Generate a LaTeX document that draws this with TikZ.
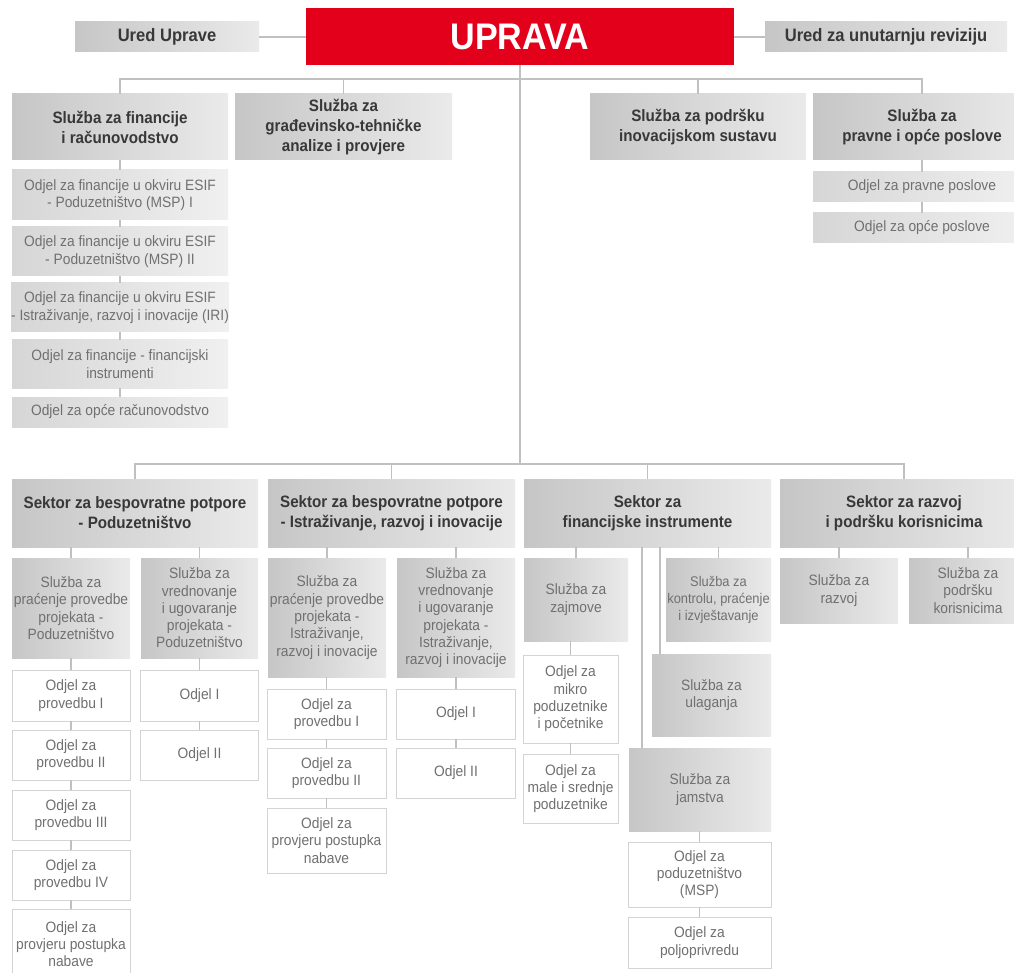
\documentclass[tikz,border=0pt]{standalone}
\usepackage{fontspec}
\setmainfont{Liberation Sans}[FakeStretch=0.92]
\usepackage{tikz}
\definecolor{upravaRed}{RGB}{226,0,26}
\definecolor{lineGray}{RGB}{192,192,192}
\definecolor{textDark}{RGB}{56,56,56}
\definecolor{textGray}{RGB}{112,112,112}
\definecolor{boxDark}{RGB}{198,198,198}
\definecolor{boxLight}{RGB}{234,234,234}
\definecolor{paleDark}{RGB}{214,214,214}
\definecolor{paleLight}{RGB}{240,240,240}
\definecolor{odjelBorder}{RGB}{212,212,212}
\newcommand{\headfont}{\fontsize{16.5}{20}\selectfont\bfseries}
\newcommand{\uredfont}{\fontsize{18}{21}\selectfont\bfseries}
\newcommand{\bodyfont}{\fontsize{15}{17.3}\selectfont}

\begin{document}
\begin{tikzpicture}[x=1pt, y=-1pt]%
  \tikzset{
    head/.style={left color=boxDark, right color=boxLight, text=textDark, font=\headfont},
    sub/.style={left color=boxDark, right color=boxLight, text=textGray, font=\bodyfont},
    pale/.style={left color=paleDark, right color=paleLight, text=textGray, font=\bodyfont},
    odjel/.style={fill=white, draw=odjelBorder, line width=0.8pt, text=textGray, font=\bodyfont},
    link/.style={draw=lineGray, line width=1.4pt},
    wh/.style 2 args={minimum width=#1, minimum height=#2}
  }
  \tikzstyle{every node}=[rectangle, inner sep=0pt, outer sep=0pt, align=center]

  \useasboundingbox (0,0) rectangle (1014,973);
  \clip (0,0) rectangle (1014,973);
  \fill[white] (0,0) rectangle (1014,973);

  % top level
  \node[fill=upravaRed, text=white, font=\fontsize{37}{40}\selectfont\bfseries, wh={428}{57}] at (520,36.5) (UPR) {UPRAVA};
  \node[head, font=\uredfont, wh={184}{30}] at (167,37) (UU) {Ured Uprave};
  \node[head, font=\uredfont, wh={242}{30}] at (886,37) (UR) {Ured za unutarnju reviziju};

  \node[head, wh={216}{66}] at (120,127) (SF) {Služba za financije\\i računovodstvo};
  \node[head, wh={217}{66}] at (343.5,127) (SG) {Služba za\\građevinsko-tehničke\\analize i provjere};
  \node[head, wh={216}{66}] at (698,127) (SP) {Služba za podršku\\inovacijskom sustavu};
  \node[head, wh={218}{66}] at (922,127) (SPO) {Služba za\\pravne i opće poslove};

  \node[pale, wh={218}{30}] at (922,187) (OPR) {Odjel za pravne poslove};
  \node[pale, wh={218}{30}] at (922,228) (OOP) {Odjel za opće poslove};

  \node[pale, wh={216}{50}] at (120,195) (F1) {Odjel za financije u okviru ESIF\\- Poduzetništvo (MSP) I};
  \node[pale, wh={216}{49}] at (120,251.5) (F2) {Odjel za financije u okviru ESIF\\- Poduzetništvo (MSP) II};
  \node[pale, wh={216}{49}] at (120,307.5) (F3) {Odjel za financije u okviru ESIF\\- Istraživanje, razvoj i inovacije (IRI)};
  \node[pale, wh={216}{48}] at (120,364) (F4) {Odjel za financije - financijski\\instrumenti};
  \node[pale, wh={216}{30}] at (120,412) (F5) {Odjel za opće računovodstvo};

  % sektori
  \node[head, wh={246}{68}] at (135,513) (S1) {Sektor za bespovratne potpore\\- Poduzetništvo};
  \node[head, wh={247}{68}] at (391.5,513) (S2) {Sektor za bespovratne potpore\\- Istraživanje, razvoj i inovacije};
  \node[head, wh={247}{68}] at (647.5,513) (S3) {Sektor za\\financijske instrumente};
  \node[head, wh={248}{68}] at (904,513) (S4) {Sektor za razvoj\\i podršku korisnicima};

  \node[sub, wh={118}{100}] at (71,608) (S1a) {Služba za\\praćenje provedbe\\projekata -\\Poduzetništvo};
  \node[sub, wh={117}{100}] at (199.5,608) (S1b) {Služba za\\vrednovanje\\i ugovaranje\\projekata -\\Poduzetništvo};
  \node[sub, wh={118}{119}] at (327,617.5) (S2a) {Služba za\\praćenje provedbe\\projekata -\\Istraživanje,\\razvoj i inovacije};
  \node[sub, wh={118}{119}] at (456,617.5) (S2b) {Služba za\\vrednovanje\\i ugovaranje\\projekata -\\Istraživanje,\\razvoj i inovacije};
  \node[sub, wh={104}{83}] at (576,599.5) (ZAJ) {Služba za\\zajmove};
  \node[sub, font=\fontsize{14}{17}\selectfont, wh={105}{83}] at (718.5,599.5) (KON) {Služba za\\kontrolu, praćenje\\i izvještavanje};
  \node[sub, wh={119}{82}] at (711.5,695) (ULA) {Služba za\\ulaganja};
  \node[sub, wh={142}{83}] at (700,789.5) (JAM) {Služba za\\jamstva};
  \node[sub, wh={118}{65}] at (839,590.5) (RAZ) {Služba za\\razvoj};
  \node[sub, wh={118}{65}] at (968,590.5) (KOR) {Služba za\\podršku\\korisnicima};

  % odjeli
  \node[odjel, wh={118}{51}] at (71,695.5) (A1) {Odjel za\\provedbu I};
  \node[odjel, wh={118}{50}] at (71,755) (A2) {Odjel za\\provedbu II};
  \node[odjel, wh={118}{50}] at (71,815) (A3) {Odjel za\\provedbu III};
  \node[odjel, wh={118}{50}] at (71,875) (A4) {Odjel za\\provedbu IV};
  \node[odjel, wh={118}{70}] at (71,944) (A5) {Odjel za\\provjeru postupka\\nabave};
  \node[odjel, wh={118}{51}] at (199.5,695.5) (B1) {Odjel I};
  \node[odjel, wh={118}{50}] at (199.5,755) (B2) {Odjel II};
  \node[odjel, wh={119}{50}] at (326.5,714) (C1) {Odjel za\\provedbu I};
  \node[odjel, wh={119}{50}] at (326.5,773) (C2) {Odjel za\\provedbu II};
  \node[odjel, wh={119}{65}] at (326.5,840.5) (C3) {Odjel za\\provjeru postupka\\nabave};
  \node[odjel, wh={119}{50}] at (456,714) (D1) {Odjel I};
  \node[odjel, wh={119}{50}] at (456,773) (D2) {Odjel II};
  \node[odjel, wh={95}{88}] at (570.5,699) (E1) {Odjel za\\mikro\\poduzetnike\\i početnike};
  \node[odjel, wh={95}{69}] at (570.5,788.5) (E2) {Odjel za\\male i srednje\\poduzetnike};
  \node[odjel, wh={143}{65}] at (699.5,874.5) (G1) {Odjel za\\poduzetništvo\\(MSP)};
  \node[odjel, wh={143}{51}] at (699.5,942.5) (G2) {Odjel za\\poljoprivredu};

  % veze
  \coordinate (bus1) at (520,79);
  \coordinate (bus2) at (520,464);
  \draw[link] (UU.east) -- (UU.east -| UPR.west);
  \draw[link] (UR.west) -- (UR.west -| UPR.east);
  \draw[link] (UPR.south) -- (bus2);
  \draw[link] (SF.north) |- (bus1) -| (SPO.north);
  \draw[link] (SG.north) -- (SG.north |- bus1);
  \draw[link] (SP.north) -- (SP.north |- bus1);
  \draw[link] (S1.north) |- (bus2) -| (S4.north);
  \draw[link] (S2.north) -- (S2.north |- bus2);
  \draw[link] (S3.north) -- (S3.north |- bus2);

  \foreach \c/\p in {F1/SF, F2/F1, F3/F2, F4/F3, F5/F4, OPR/SPO, OOP/OPR,
      S1a/S1, S1b/S1, S2a/S2, S2b/S2, ZAJ/S3, KON/S3, RAZ/S4, KOR/S4,
      A1/S1a, A2/A1, A3/A2, A4/A3, A5/A4, B1/S1b, B2/B1,
      C1/S2a, C2/C1, C3/C2, D1/S2b, D2/D1, E1/ZAJ, E2/E1, G1/JAM, G2/G1}
    \draw[link] (\c.north) -- (\c.north |- \p.south);

  \coordinate (ulaTop) at ([xshift=8]ULA.north west);
  \coordinate (jamTop) at ([xshift=13]JAM.north west);
  \draw[link] (ulaTop) -- (ulaTop |- S3.south);
  \draw[link] (jamTop) -- (jamTop |- S3.south);
\end{tikzpicture}
\end{document}
